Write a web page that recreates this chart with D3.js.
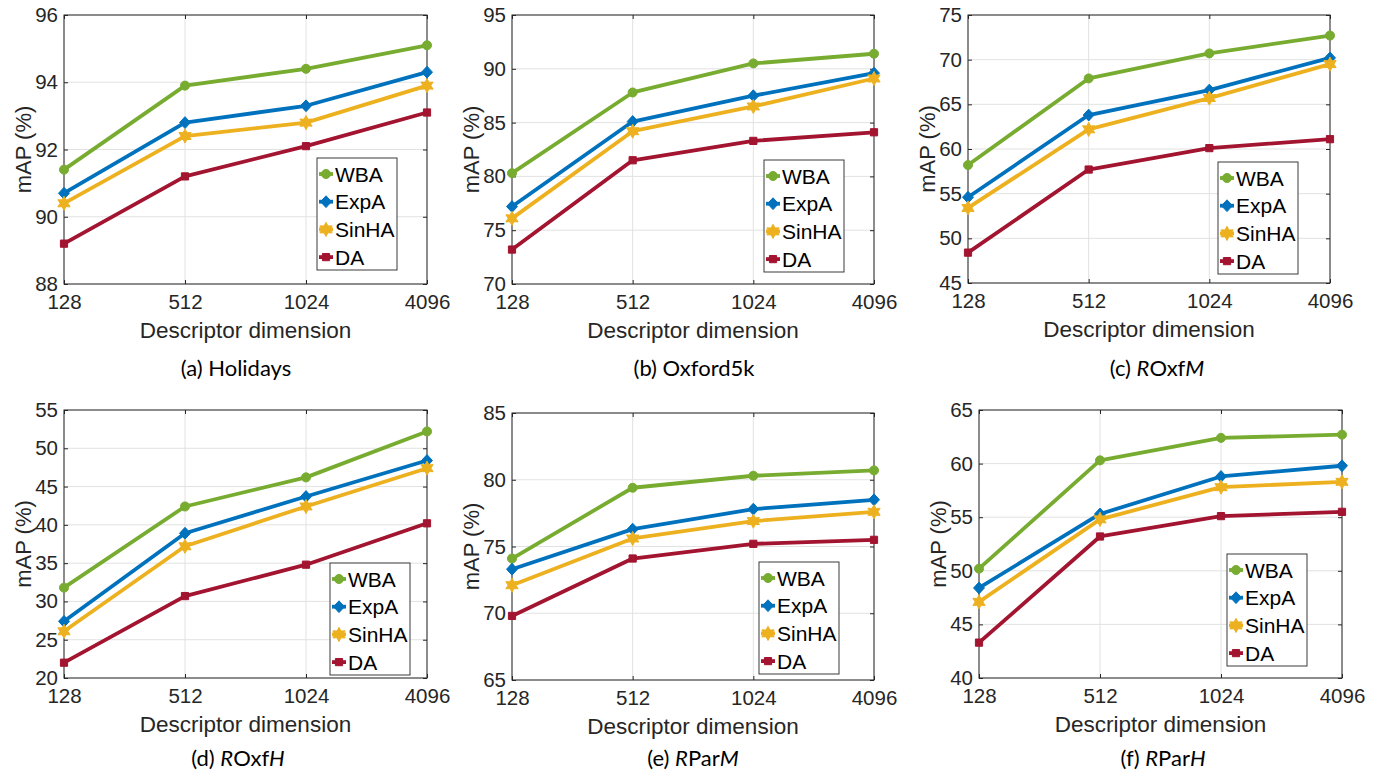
<!DOCTYPE html>
<html>
<head>
<meta charset="utf-8">
<script src="https://cdn.jsdelivr.net/npm/d3@7"></script>
<style>
body{margin:0;background:#fff;}
text{font-family:"Liberation Sans", Arial, sans-serif;}
</style>
</head>
<body>
<div id="canvas"></div>
<script>
// --- data
var dims = ['128','512','1024','4096'];
var methods = ['WBA','ExpA','SinHA','DA'];
var colors = ['#77AC30','#0072BD','#EDB120','#A2142F'];

// rows: WBA, ExpA, SinHA, DA
var holidays = [[91.4,93.9,94.4,95.1],[90.7,92.8,93.3,94.3],[90.4,92.4,92.8,93.9],[89.2,91.2,92.1,93.1]];
var oxford5k = [[80.3,87.8,90.5,91.4],[77.2,85.1,87.5,89.6],[76.1,84.2,86.5,89.1],[73.2,81.5,83.3,84.1]];
var roxfM    = [[58.2,67.9,70.7,72.7],[54.6,63.8,66.6,70.2],[53.4,62.2,65.7,69.5],[48.4,57.7,60.1,61.1]];
var roxfH    = [[31.8,42.4,46.2,52.2],[27.4,38.9,43.7,48.4],[26.1,37.2,42.4,47.4],[22.0,30.7,34.8,40.2]];
var rparM    = [[74.1,79.4,80.3,80.7],[73.3,76.3,77.8,78.5],[72.1,75.6,76.9,77.6],[69.8,74.1,75.2,75.5]];
var rparH    = [[50.2,60.3,62.4,62.7],[48.4,55.3,58.8,59.8],[47.1,54.8,57.8,58.3],[43.3,53.2,55.1,55.5]];

var ticksA = [88,90,92,94,96];
var ticksB = [70,75,80,85,90,95];
var ticksC = [45,50,55,60,65,70,75];
var ticksD = [20,25,30,35,40,45,50,55];
var ticksE = [65,70,75,80,85];
var ticksF = [40,45,50,55,60,65];

// caption pieces: [text, italic]
var capA = [['(a) Holidays',0]];
var capB = [['(b) Oxford5k',0]];
var capC = [['(c) ',0],['R',1],['Oxf',0],['M',1]];
var capD = [['(d) ',0],['R',1],['Oxf',0],['H',1]];
var capE = [['(e) ',0],['R',1],['Par',0],['M',1]];
var capF = [['(f) ',0],['R',1],['Par',0],['H',1]];

// --- layout
var panels = [
  {data:holidays, ticks:ticksA, cap:capA, x0:64,  x1:427,  y0:15,  y1:284, lx:317,  ly:158, cx:236,  cy:376},
  {data:oxford5k, ticks:ticksB, cap:capB, x0:512, x1:874,  y0:15,  y1:284, lx:764,  ly:160, cx:694,  cy:376},
  {data:roxfM,    ticks:ticksC, cap:capC, x0:968, x1:1330, y0:15,  y1:283, lx:1218, ly:162, cx:1157, cy:376},
  {data:roxfH,    ticks:ticksD, cap:capD, x0:64,  x1:427,  y0:410, y1:678, lx:330,  ly:563, cx:238,  cy:766},
  {data:rparM,    ticks:ticksE, cap:capE, x0:512, x1:874,  y0:413, y1:680, lx:759,  ly:562, cx:693,  cy:766},
  {data:rparH,    ticks:ticksF, cap:capF, x0:979, x1:1342, y0:410, y1:678, lx:1227, ly:554, cx:1163, cy:766}
];

var svg = d3.select('#canvas').append('svg')
  .attr('width', 1375)
  .attr('height', 772);

// 6-point star
var hexagram = {
  draw: function(ctx, size){
    var r = Math.sqrt(size);
    for (var i = 0; i < 12; i++){
      var a = i*Math.PI/6 - Math.PI/2;
      var rr = (i%2) ? r*0.55 : r;
      if (i===0) ctx.moveTo(rr*Math.cos(a), rr*Math.sin(a));
      else ctx.lineTo(rr*Math.cos(a), rr*Math.sin(a));
    }
    ctx.closePath();
  }
};
// rhombus, close to a rotated square
var rhombus = {
  draw: function(ctx, size){
    var r = Math.sqrt(size);
    ctx.moveTo(0, -r*1.08);
    ctx.lineTo(r, 0);
    ctx.lineTo(0, r*1.08);
    ctx.lineTo(-r, 0);
    ctx.closePath();
  }
};
var symTypes = [d3.symbolCircle, rhombus, hexagram, d3.symbolSquare];
var symSizes = [64, 30, 50, 52];

function marker(g, i, x, y){
  g.append('path')
    .attr('d', d3.symbol().type(symTypes[i]).size(symSizes[i])())
    .attr('transform','translate('+x+','+y+')')
    .attr('fill', colors[i])
    .attr('stroke', colors[i])
    .attr('stroke-width', 1);
}

panels.forEach(function(p){
  var x = d3.scalePoint().domain(dims).range([p.x0, p.x1]);
  var y = d3.scaleLinear()
    .domain([p.ticks[0], p.ticks[p.ticks.length-1]])
    .range([p.y1, p.y0]);

  var g = svg.append('g');

  // grid
  g.selectAll('.gy').data(p.ticks).enter().append('line')
    .attr('x1', p.x0).attr('x2', p.x1)
    .attr('y1', function(d){return y(d);}).attr('y2', function(d){return y(d);})
    .attr('stroke','#e2e2e2').attr('stroke-width',1);
  g.selectAll('.gx').data(dims).enter().append('line')
    .attr('x1', function(d){return x(d);}).attr('x2', function(d){return x(d);})
    .attr('y1', p.y0).attr('y2', p.y1)
    .attr('stroke','#e2e2e2').attr('stroke-width',1);

  // axes
  var ax = g.append('g').attr('transform','translate(0,'+p.y1+')')
    .call(d3.axisBottom(x).tickSizeInner(-4).tickSizeOuter(0).tickPadding(10));
  var ay = g.append('g').attr('transform','translate('+p.x0+',0)')
    .call(d3.axisLeft(y).tickValues(p.ticks).tickSizeInner(-4).tickSizeOuter(0).tickPadding(6));
  g.append('g').attr('transform','translate(0,'+p.y0+')')
    .call(d3.axisTop(x).tickSizeInner(-4).tickSizeOuter(0).tickFormat(''));
  g.append('g').attr('transform','translate('+p.x1+',0)')
    .call(d3.axisRight(y).tickValues(p.ticks).tickSizeInner(-4).tickSizeOuter(0).tickFormat(''));
  g.selectAll('.domain').remove();
  g.selectAll('.tick line').attr('stroke','#262626');
  [ax, ay].forEach(function(a){
    a.selectAll('text')
      .attr('font-size', 20.5)
      .attr('fill','#262626')
      .style('font-family','"Liberation Sans", Arial, sans-serif');
  });

  g.append('rect')
    .attr('x', p.x0).attr('y', p.y0)
    .attr('width', p.x1-p.x0).attr('height', p.y1-p.y0)
    .attr('fill','none').attr('stroke','#262626').attr('stroke-width',1);

  // labels
  g.append('text')
    .attr('x', (p.x0+p.x1)/2).attr('y', p.y1+54)
    .attr('text-anchor','middle').attr('font-size',22.5).attr('fill','#262626')
    .text('Descriptor dimension');
  g.append('text')
    .attr('transform','translate('+(p.x0-41)+','+((p.y0+p.y1)/2)+') rotate(-90)')
    .attr('text-anchor','middle').attr('dy','0.35em').attr('font-size',22).attr('fill','#262626')
    .text('mAP (%)');

  // lines + markers
  var line = d3.line()
    .x(function(d,i){return x(dims[i]);})
    .y(function(d){return y(d);});
  p.data.forEach(function(row, k){
    g.append('path')
      .attr('d', line(row))
      .attr('fill','none')
      .attr('stroke', colors[k])
      .attr('stroke-width', 3.8)
      .attr('stroke-linejoin','round');
  });
  p.data.forEach(function(row, k){
    row.forEach(function(v, i){ marker(g, k, x(dims[i]), y(v)); });
  });

  // legend
  var lg = g.append('g').attr('transform','translate('+p.lx+','+p.ly+')');
  lg.append('rect').attr('width',80).attr('height',112)
    .attr('fill','#fff').attr('stroke','#3a3a3a').attr('stroke-width',1);
  methods.forEach(function(m, k){
    var cy = 16 + k*27.7;
    lg.append('line').attr('x1',2).attr('x2',16).attr('y1',cy).attr('y2',cy)
      .attr('stroke', colors[k]).attr('stroke-width',3.8);
    marker(lg, k, 9, cy);
    lg.append('text').attr('x',18).attr('y',cy).attr('dy','0.36em')
      .attr('font-size',21).attr('fill','#000').text(m);
  });

  // caption
  var cap = g.append('text')
    .attr('x', p.cx).attr('y', p.cy)
    .attr('text-anchor','middle')
    .attr('font-size', 22).attr('fill','#000')
    .style('font-family','Lato, "Open Sans", sans-serif');
  p.cap.forEach(function(c){
    cap.append('tspan').attr('font-style', c[1] ? 'italic' : 'normal').text(c[0]);
  });
});
</script>
</body>
</html>
